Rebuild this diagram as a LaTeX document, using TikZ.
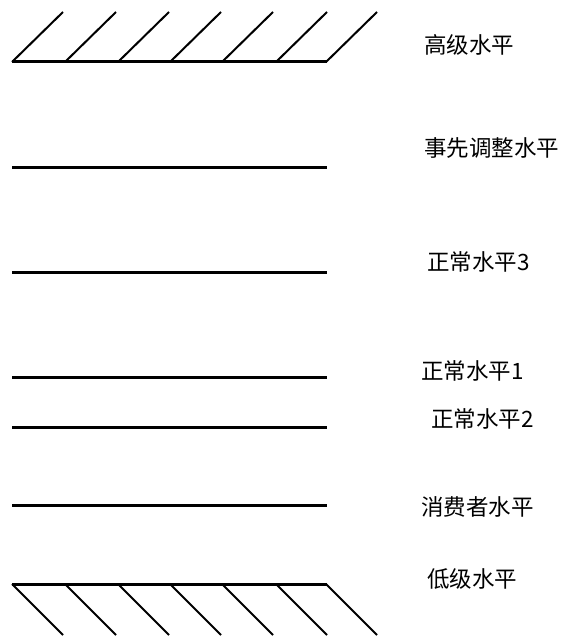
\documentclass[tikz,border=0pt]{standalone}
\usepackage{fontspec}
\newfontfamily\cjk{Noto Sans CJK SC}
\begin{document}
\begin{tikzpicture}[x=1pt,y=-1pt,
  level/.style={line width=3pt},
  hatch/.style={line width=2pt},
  lbl/.style={anchor=west,inner sep=0pt,font=\cjk\fontsize{22.5}{22.5}\selectfont}]
\useasboundingbox (0,0) rectangle (564,639);
% top boundary
\draw[level] (12,62) -- (327,62);
\foreach \x in {12,65,118,170,222,276,326}
  \draw[hatch] (\x,62) -- ++(51,-50);
% bottom boundary
\draw[level] (12,584) -- (327,584);
\foreach \x in {12,65,118,170,222,276,326}
  \draw[hatch] (\x,584) -- ++(51,51);
% levels
\foreach \y in {168,272,377,427,505}
  \draw[level] (12,\y) -- (327,\y);
% labels
\node[lbl] (high) at (424,45) {高级水平};
\node[lbl] (adj) at (424,148) {事先调整水平};
\node[lbl] (n3) at (427,262) {正常水平3};
\node[lbl] (n1) at (421,371) {正常水平1};
\node[lbl] (n2) at (431,419) {正常水平2};
\node[lbl] (cons) at (421,507) {消费者水平};
\node[lbl] (low) at (427,579) {低级水平};
\end{tikzpicture}
\end{document}
